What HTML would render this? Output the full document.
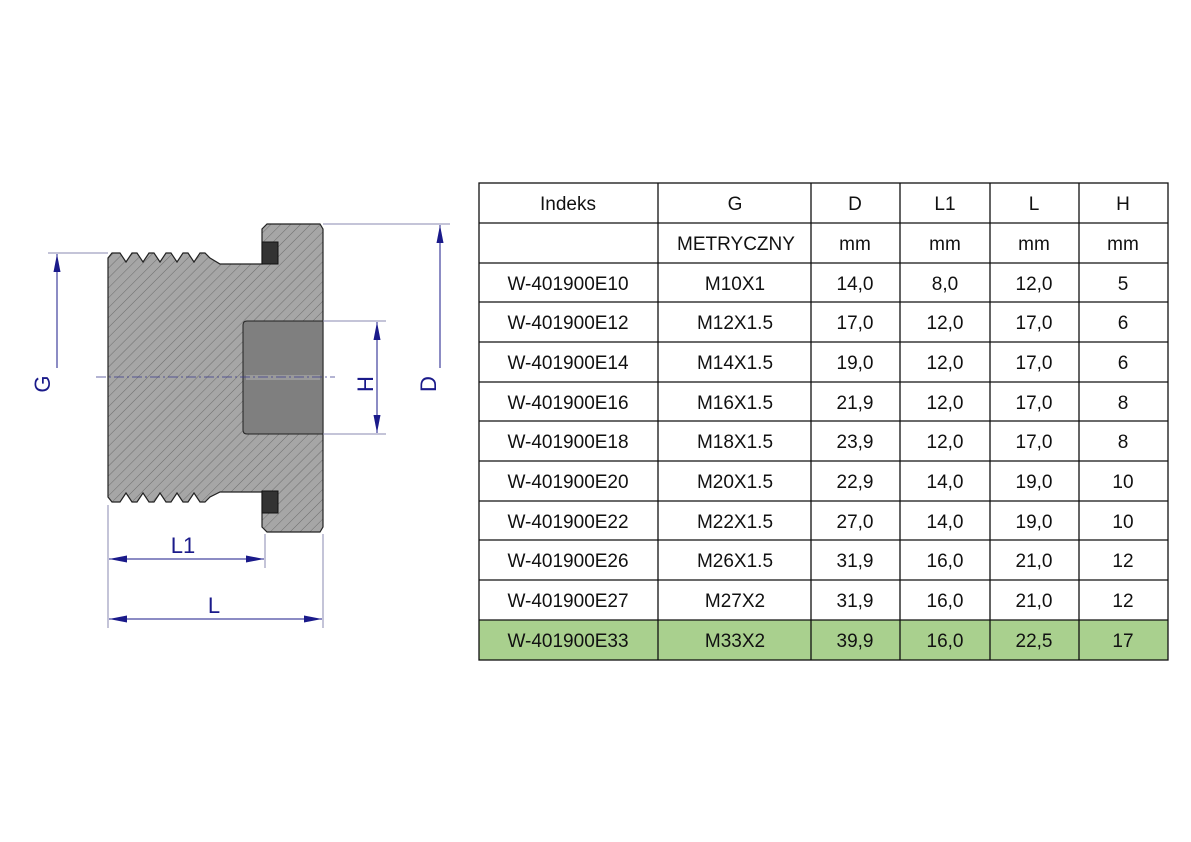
<!DOCTYPE html>
<html><head><meta charset="utf-8"><style>
html,body{margin:0;padding:0;background:#fff;}
svg{display:block;}
text{font-family:"Liberation Sans",sans-serif;}
</style></head><body>
<svg width="1191" height="842" viewBox="0 0 1191 842" xmlns="http://www.w3.org/2000/svg">
<defs>
<pattern id="h" patternUnits="userSpaceOnUse" width="7" height="7" patternTransform="rotate(45)">
<rect width="7" height="7" fill="#a6a6a6"/>
<line x1="0" y1="0" x2="0" y2="7" stroke="#666" stroke-width="0.9"/>
</pattern>
<marker id="a" viewBox="0 0 18 8" refX="18" refY="4" markerWidth="18" markerHeight="8" orient="auto-start-reverse" markerUnits="userSpaceOnUse"><path d="M0,0.5 L18,4 L0,7.5 Z" fill="#1a1a8a"/></marker>
</defs>
<path d="M112,253 L120,253 L126,262 L132,253 L137,253 L143,262 L149,253 L154,253 L160,262 L166,253 L171,253 L177,262 L183,253 L188,253 L194,262 L200,253 L205,253 L210,258 L220,264 L262,264 L262,229 L267,224 L320,224 L323,229 L323,527 L320,532 L267,532 L262,527 L262,492 L220,492 L210,497 L205,502 L200,502 L194,493 L188,502 L183,502 L177,493 L171,502 L166,502 L160,493 L154,502 L149,502 L143,493 L137,502 L132,502 L126,493 L120,502 L112,502 L108,497 L108,258 Z" fill="url(#h)" stroke="#222" stroke-width="1.2"/>
<rect x="262" y="242" width="16" height="22" fill="#333" stroke="#111"/>
<rect x="262" y="491" width="16" height="22" fill="#333" stroke="#111"/>
<path d="M247,321 L323,321 L323,434 L247,434 Q243,434 243,430 L243,325 Q243,321 247,321 Z" fill="#7f7f7f" stroke="#222"/>
<rect x="246" y="375" width="74" height="5" fill="#9a9a9a"/>
<line x1="96" y1="377" x2="335" y2="377" stroke="#3a3a8a" stroke-width="0.8" stroke-dasharray="10,3,2,3"/>
<g stroke="#8a8ab0" stroke-width="1" fill="none">
<line x1="48" y1="253" x2="108" y2="253"/>
<line x1="323" y1="224" x2="450" y2="224"/>
<line x1="323" y1="321" x2="386" y2="321"/>
<line x1="323" y1="434" x2="386" y2="434"/>
<line x1="108" y1="505" x2="108" y2="628"/>
<line x1="265" y1="534" x2="265" y2="568"/>
<line x1="323" y1="534" x2="323" y2="628"/>
</g>
<g stroke="#1a1a8a" stroke-width="1" fill="none">
<line x1="57" y1="368" x2="57" y2="254" marker-end="url(#a)"/>
<line x1="440" y1="368" x2="440" y2="225" marker-end="url(#a)"/>
<line x1="377" y1="322" x2="377" y2="433" marker-start="url(#a)" marker-end="url(#a)"/>
<line x1="109" y1="559" x2="264" y2="559" marker-start="url(#a)" marker-end="url(#a)"/>
<line x1="109" y1="619" x2="322" y2="619" marker-start="url(#a)" marker-end="url(#a)"/>
</g>
<g fill="#1a1a8a" font-size="22">
<text transform="translate(50,384) rotate(-90)" text-anchor="middle">G</text>
<text transform="translate(373,384) rotate(-90)" text-anchor="middle">H</text>
<text transform="translate(436,384) rotate(-90)" text-anchor="middle">D</text>
<text x="183" y="553" text-anchor="middle">L1</text>
<text x="214" y="613" text-anchor="middle">L</text>
</g>
<rect x="479" y="620" width="689" height="40" fill="#a9d08e"/>
<g stroke="#111" stroke-width="1.3">
<rect x="479" y="183" width="689" height="477" fill="none"/>
<line x1="658" y1="183" x2="658" y2="660"/><line x1="811" y1="183" x2="811" y2="660"/>
<line x1="900" y1="183" x2="900" y2="660"/><line x1="990" y1="183" x2="990" y2="660"/>
<line x1="1079" y1="183" x2="1079" y2="660"/>
<line x1="479" y1="223" x2="1168" y2="223"/><line x1="479" y1="263" x2="1168" y2="263"/>
<line x1="479" y1="302" x2="1168" y2="302"/><line x1="479" y1="342" x2="1168" y2="342"/>
<line x1="479" y1="382" x2="1168" y2="382"/><line x1="479" y1="421" x2="1168" y2="421"/>
<line x1="479" y1="461" x2="1168" y2="461"/><line x1="479" y1="501" x2="1168" y2="501"/>
<line x1="479" y1="540" x2="1168" y2="540"/><line x1="479" y1="580" x2="1168" y2="580"/>
<line x1="479" y1="620" x2="1168" y2="620"/>
</g>
<g font-size="19" fill="#111" text-anchor="middle">
<text x="568" y="210">Indeks</text><text x="735" y="210">G</text><text x="855" y="210">D</text><text x="945" y="210">L1</text><text x="1034" y="210">L</text><text x="1123" y="210">H</text>
<text x="736" y="250">METRYCZNY</text><text x="855" y="250">mm</text><text x="945" y="250">mm</text><text x="1034" y="250">mm</text><text x="1123" y="250">mm</text>
<text x="568" y="290">W-401900E10</text><text x="735" y="290">M10X1</text><text x="855" y="290">14,0</text><text x="945" y="290">8,0</text><text x="1034" y="290">12,0</text><text x="1123" y="290">5</text>
<text x="568" y="329">W-401900E12</text><text x="735" y="329">M12X1.5</text><text x="855" y="329">17,0</text><text x="945" y="329">12,0</text><text x="1034" y="329">17,0</text><text x="1123" y="329">6</text>
<text x="568" y="369">W-401900E14</text><text x="735" y="369">M14X1.5</text><text x="855" y="369">19,0</text><text x="945" y="369">12,0</text><text x="1034" y="369">17,0</text><text x="1123" y="369">6</text>
<text x="568" y="409">W-401900E16</text><text x="735" y="409">M16X1.5</text><text x="855" y="409">21,9</text><text x="945" y="409">12,0</text><text x="1034" y="409">17,0</text><text x="1123" y="409">8</text>
<text x="568" y="448">W-401900E18</text><text x="735" y="448">M18X1.5</text><text x="855" y="448">23,9</text><text x="945" y="448">12,0</text><text x="1034" y="448">17,0</text><text x="1123" y="448">8</text>
<text x="568" y="488">W-401900E20</text><text x="735" y="488">M20X1.5</text><text x="855" y="488">22,9</text><text x="945" y="488">14,0</text><text x="1034" y="488">19,0</text><text x="1123" y="488">10</text>
<text x="568" y="528">W-401900E22</text><text x="735" y="528">M22X1.5</text><text x="855" y="528">27,0</text><text x="945" y="528">14,0</text><text x="1034" y="528">19,0</text><text x="1123" y="528">10</text>
<text x="568" y="567">W-401900E26</text><text x="735" y="567">M26X1.5</text><text x="855" y="567">31,9</text><text x="945" y="567">16,0</text><text x="1034" y="567">21,0</text><text x="1123" y="567">12</text>
<text x="568" y="607">W-401900E27</text><text x="735" y="607">M27X2</text><text x="855" y="607">31,9</text><text x="945" y="607">16,0</text><text x="1034" y="607">21,0</text><text x="1123" y="607">12</text>
<text x="568" y="647">W-401900E33</text><text x="735" y="647">M33X2</text><text x="855" y="647">39,9</text><text x="945" y="647">16,0</text><text x="1034" y="647">22,5</text><text x="1123" y="647">17</text>
</g>
</svg>
</body></html>
